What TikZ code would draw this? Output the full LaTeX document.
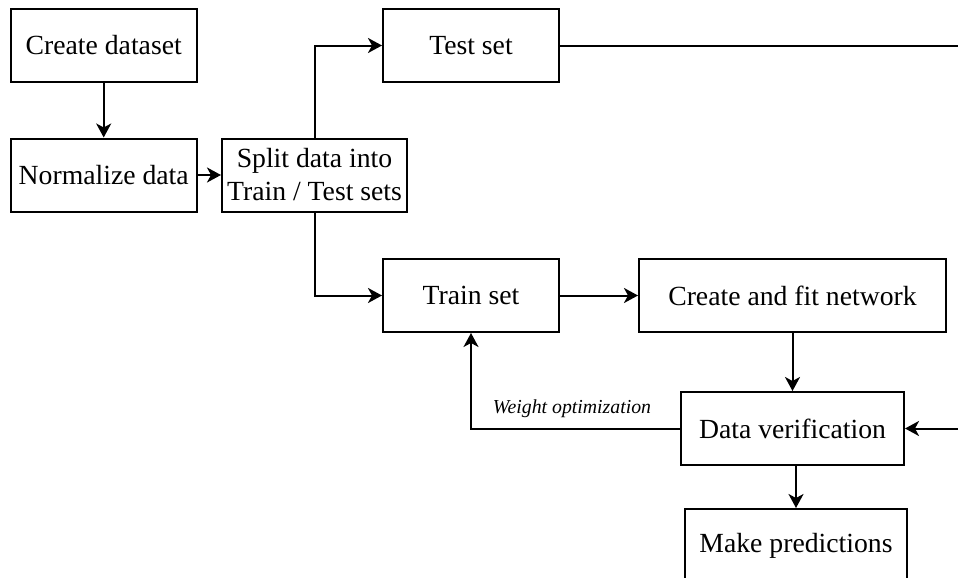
\documentclass[tikz,border=0pt]{standalone}
\usepackage{fontspec}
\setmainfont{Liberation Serif}
\usetikzlibrary{arrows.meta}
\begin{document}
\begin{tikzpicture}[x=0.5pt,y=-0.5pt,
  box/.style={draw, line width=1pt, inner sep=0pt, align=center, font=\fontsize{13.85pt}{16.5pt}\selectfont, minimum height=36.5pt},
  arr/.style={line width=1pt, -{Stealth[length=7pt,width=7.5pt,inset=2pt]}},
  ln/.style={line width=1pt},
  lbl/.style={font=\fontsize{9.9pt}{12pt}\selectfont\itshape, inner sep=0pt}
]
\clip (0,0) rectangle (958,578);
\fill[white] (0,0) rectangle (958,578);
\node[box, minimum width=93pt] (create) at (103.7,45.5) {Create dataset};
\node[box, minimum width=93pt] (norm) at (103.7,175) {Normalize data};
\node[box, minimum width=92.5pt] (split) at (314.5,175) {Split data into\\Train / Test sets};
\node[box, minimum width=88pt] (test) at (471,45.5) {Test set};
\node[box, minimum width=88pt] (train) at (471,295.5) {Train set};
\node[box, minimum width=153.5pt] (fit) at (792.5,295.5) {Create and fit network};
\node[box, minimum width=111.5pt] (ver) at (792.5,428.5) {Data verification};
\node[box, minimum width=111pt] (pred) at (796,545.5) {Make predictions};
\coordinate (r1) at (958,45.5);
\coordinate (r2) at (958,428.5);
\draw[arr] (create) -- (norm);
\draw[arr] (norm) -- (split);
\draw[arr] (split.north) |- (test.west);
\draw[arr] (split.south) |- (train.west);
\draw[arr] (train) -- (fit);
\draw[arr] (fit) -- (ver);
\draw[arr] (pred.north |- ver.south) -- (pred.north);
\draw[arr] (ver.west) -| (train.south);
\node[lbl] (wlab) at (572,409) {Weight optimization};
\draw[ln] (test.east) -- (r1);
\draw[arr] (r2) -- (ver.east);
\end{tikzpicture}
\end{document}
